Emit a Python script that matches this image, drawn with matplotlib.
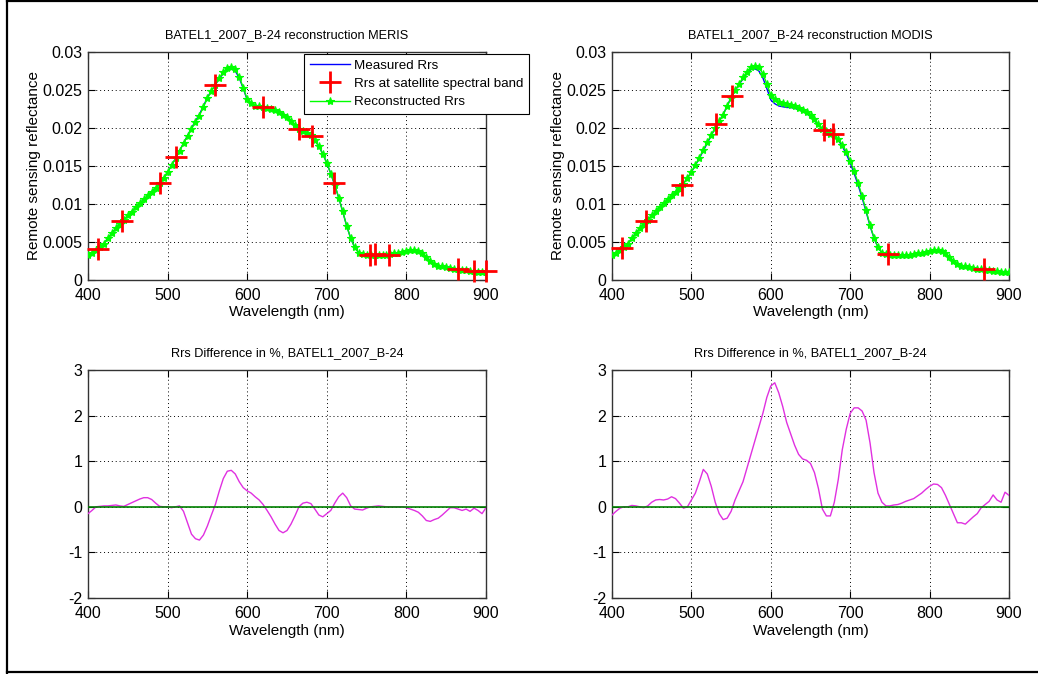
import numpy as np
import matplotlib
matplotlib.use('Agg')
import matplotlib.pyplot as plt
from matplotlib.lines import Line2D

plt.rcParams['font.family'] = ['Liberation Sans', 'DejaVu Sans']
plt.rcParams['axes.unicode_minus'] = False

# ---------------- data ----------------
wavelength = np.arange(400, 901, 5)

measured_rrs = [
    0.0033, 0.0036, 0.0040, 0.0043, 0.0048, 0.0055, 0.0062, 0.0068, 0.0074, 0.0079,
    0.0085, 0.0090, 0.0096, 0.0101, 0.0106, 0.0111, 0.0116, 0.0121, 0.0127, 0.0134,
    0.0142, 0.0151, 0.0160, 0.0170, 0.0180, 0.0190, 0.0200, 0.0209, 0.0218, 0.0229,
    0.0240, 0.0249, 0.0257, 0.0265, 0.0272, 0.0277, 0.0278, 0.0275, 0.0266, 0.0252,
    0.0237, 0.0232, 0.0229, 0.0228, 0.0227, 0.0227, 0.0226, 0.0224, 0.0222, 0.0219,
    0.0215, 0.0210, 0.0204, 0.0199, 0.0196, 0.0193, 0.0190, 0.0184, 0.0176, 0.0166,
    0.0154, 0.0140, 0.0125, 0.0108, 0.0090, 0.0071, 0.0055, 0.0043, 0.0036, 0.0034,
    0.0033, 0.0033, 0.0033, 0.0033, 0.0033, 0.0033, 0.0034, 0.0035, 0.0036, 0.0037,
    0.0038, 0.0039, 0.0039, 0.0038, 0.0035, 0.0030, 0.0025, 0.0021, 0.0019, 0.0018,
    0.0017, 0.0016, 0.0015, 0.0014, 0.0013, 0.0013, 0.0012, 0.0012, 0.0011, 0.0011,
    0.0011,
]

# difference (%) between reconstructed and measured Rrs
diff_meris = [
    -0.15, -0.08, 0.00, 0.01, 0.02, 0.02, 0.03, 0.04, 0.02, 0.01,
    0.05, 0.09, 0.13, 0.17, 0.20, 0.20, 0.16, 0.08, 0.01, 0.00,
    0.00, -0.02, 0.00, 0.02, -0.10, -0.35, -0.60, -0.70, -0.73, -0.62,
    -0.42, -0.18, 0.05, 0.35, 0.62, 0.78, 0.80, 0.72, 0.55, 0.42,
    0.35, 0.30, 0.22, 0.15, 0.05, -0.08, -0.22, -0.38, -0.52, -0.57,
    -0.52, -0.38, -0.20, 0.00, 0.08, 0.10, 0.07, -0.05, -0.18, -0.22,
    -0.15, -0.08, 0.08, 0.22, 0.30, 0.20, 0.02, -0.05, -0.06, -0.07,
    -0.03, 0.00, 0.01, 0.02, 0.01, 0.00, 0.00, 0.00, 0.00, 0.00,
    -0.02, -0.05, -0.08, -0.12, -0.20, -0.30, -0.32, -0.28, -0.25, -0.18,
    -0.10, -0.02, -0.02, -0.05, -0.08, -0.05, -0.10, -0.03, -0.08, -0.15,
    -0.02,
]

diff_modis = [
    -0.18, -0.10, -0.03, 0.00, 0.00, 0.03, 0.02, 0.00, -0.02, 0.02,
    0.10, 0.15, 0.16, 0.15, 0.17, 0.22, 0.18, 0.08, -0.03, 0.00,
    0.15, 0.30, 0.55, 0.82, 0.72, 0.45, 0.10, -0.15, -0.28, -0.25,
    -0.10, 0.15, 0.35, 0.55, 0.85, 1.15, 1.45, 1.75, 2.05, 2.40,
    2.65, 2.72, 2.50, 2.20, 1.85, 1.60, 1.35, 1.15, 1.05, 1.02,
    0.95, 0.75, 0.40, -0.05, -0.20, -0.20, 0.10, 0.60, 1.25, 1.70,
    2.05, 2.17, 2.17, 2.10, 1.90, 1.40, 0.75, 0.30, 0.10, 0.02,
    0.02, 0.04, 0.05, 0.08, 0.12, 0.15, 0.18, 0.24, 0.30, 0.38,
    0.45, 0.50, 0.49, 0.42, 0.25, 0.05, -0.15, -0.35, -0.35, -0.38,
    -0.30, -0.22, -0.15, -0.02, 0.05, 0.12, 0.26, 0.15, 0.10, 0.32,
    0.25,
]

meris_bands = [412.5, 442.5, 490, 510, 560, 620, 665, 681.25, 708.75,
               753.75, 760.6, 778.75, 865, 885, 900]
meris_band_rrs = [0.0041, 0.0077, 0.0127, 0.0162, 0.0257, 0.0227, 0.0199, 0.0189,
                  0.0128, 0.0033, 0.0034, 0.0033, 0.0015, 0.0012, 0.0012]

modis_bands = [412, 443, 488, 531, 551, 667, 678, 748, 869]
modis_band_rrs = [0.0042, 0.0077, 0.0125, 0.0205, 0.0242, 0.0197, 0.0192, 0.0034, 0.0015]

sample = 'BATEL1_2007_B-24'
sensors = ['MERIS', 'MODIS']

# reconstructed Rrs = measured * (1 + diff/100), by definition of the difference plot
measured = np.array(measured_rrs)
recon_meris = measured * (1 + np.array(diff_meris) / 100)
recon_modis = measured * (1 + np.array(diff_modis) / 100)

# ---------------- figure ----------------
fig = plt.figure(figsize=(10.38, 6.74), dpi=100)
W, H = 1038, 674


def box(l, t, r, b):
    return [l / W, (H - b) / H, (r - l) / W, (b - t) / H]


TICK_FS = 11.5
LABEL_FS = 11
TITLE_FS = 9.2
grid_kw = dict(color='k', linestyle=(0, (1, 3)), linewidth=0.7)


def style(ax):
    ax.tick_params(direction='in', length=5, width=0.8, top=True, right=True,
                   labelsize=TICK_FS, colors='k')
    ax.tick_params(axis='x', pad=6)
    ax.tick_params(axis='y', pad=4)
    for s in ax.spines.values():
        s.set_linewidth(1.0)
        s.set_color('#333333')
    ax.grid(True, **grid_kw)
    ax.set_axisbelow(True)


xticks = [400, 500, 600, 700, 800, 900]
rrs_ticks = [0, 0.005, 0.01, 0.015, 0.02, 0.025, 0.03]
rrs_ticklabels = ['0', '0.005', '0.01', '0.015', '0.02', '0.025', '0.03']
diff_ticks = [-2, -1, 0, 1, 2, 3]

top_boxes = [box(88, 52, 486, 280), box(612, 52, 1009, 280)]
bot_boxes = [box(88, 370, 486, 598), box(612, 370, 1009, 598)]
recons = [recon_meris, recon_modis]
diffs = [diff_meris, diff_modis]
bands = [(meris_bands, meris_band_rrs), (modis_bands, modis_band_rrs)]

for i in range(2):
    ax = fig.add_axes(top_boxes[i])
    style(ax)
    l1, = ax.plot(wavelength, measured, color='#0000ff', lw=1.0, zorder=3)
    l3, = ax.plot(wavelength, recons[i], color='#00ff00', lw=1.0, marker='*',
                  markersize=6, markeredgewidth=0.8, zorder=4)
    l2, = ax.plot(bands[i][0], bands[i][1], linestyle='none', marker='+',
                  color='#ff0000', markersize=16, markeredgewidth=2, zorder=5,
                  clip_on=False)
    ax.set_xlim(400, 900)
    ax.set_ylim(0, 0.03)
    ax.set_xticks(xticks)
    ax.set_yticks(rrs_ticks)
    ax.set_yticklabels(rrs_ticklabels)
    ax.set_title(f'{sample} reconstruction {sensors[i]}', fontsize=TITLE_FS, pad=10)
    ax.set_xlabel('Wavelength (nm)', fontsize=LABEL_FS, labelpad=1)
    ax.set_ylabel('Remote sensing reflectance', fontsize=LABEL_FS, labelpad=1)
    if i == 0:
        leg = ax.legend([l1, l2, l3],
                        ['Measured Rrs', 'Rrs at satellite spectral band', 'Reconstructed Rrs'],
                        loc='upper left', bbox_to_anchor=(0.543, 0.992),
                        fontsize=9.6, handlelength=3.0, handletextpad=0.3,
                        borderaxespad=0, borderpad=0.42, labelspacing=0.45,
                        fancybox=False, framealpha=1, edgecolor='k', numpoints=1)
        leg.get_frame().set_linewidth(0.8)
        leg.set_zorder(10)

    axd = fig.add_axes(bot_boxes[i])
    style(axd)
    axd.plot(wavelength, diffs[i], color='#e030e0', lw=1.0, zorder=3)
    axd.axhline(0, color='#008000', lw=1.2, zorder=4)
    axd.set_xlim(400, 900)
    axd.set_ylim(-2, 3)
    axd.set_xticks(xticks)
    axd.set_yticks(diff_ticks)
    axd.set_title(f'Rrs Difference in %, {sample}', fontsize=TITLE_FS, pad=10)
    axd.set_xlabel('Wavelength (nm)', fontsize=LABEL_FS, labelpad=2)

# outer frame (left, top, bottom edges)
fx0 = 6.5 / W
fig.add_artist(Line2D([fx0, fx0], [0.5 / H, 1 - 0.5 / H], transform=fig.transFigure,
                      color='k', lw=1.6))
fig.add_artist(Line2D([fx0, 1], [1 - 0.8 / H, 1 - 0.8 / H], transform=fig.transFigure,
                      color='k', lw=1.6))
fig.add_artist(Line2D([fx0, 1], [2.5 / H, 2.5 / H], transform=fig.transFigure,
                      color='k', lw=1.6))

fig.savefig('out.png', dpi=100)
